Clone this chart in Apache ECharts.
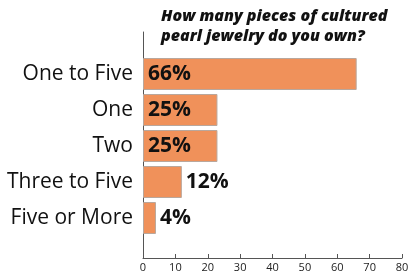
<!DOCTYPE html>
<html><head><meta charset="utf-8">
<script src="https://cdn.jsdelivr.net/npm/echarts@6/dist/echarts.min.js"></script>
<style>html,body{margin:0;padding:0;background:#fff}#c{width:416px;height:279px}</style>
</head><body><div id="c"></div>
<script>
const categories = ["One to Five", "One", "Two", "Three to Five", "Five or More"];
const barValues = [66, 23, 23, 12, 4];
const labelTexts = ["66%", "25%", "25%", "12%", "4%"];
const xTicks = [0, 10, 20, 30, 40, 50, 60, 70, 80];
const titleLines = ["How many pieces of cultured", "pearl jewelry do you own?"];

const chart = echarts.init(document.getElementById('c'), null, {renderer: 'canvas'});
const data = barValues.map((v, i) => ({
  value: v,
  label: v > 20
    ? {position: 'insideLeft', distance: 5}
    : {position: 'right', distance: 4}
}));
chart.setOption({
  animation: false,
  title: {
    text: titleLines.join('\n'),
    left: 156, top: 1,
    textStyle: {fontFamily: 'Open Sans', fontWeight: 800, fontStyle: 'italic', fontSize: 16, lineHeight: 20, color: '#111'}
  },
  grid: [
    {left: 143, right: 14, top: 56, bottom: 43},
    {left: 143, right: 14, top: 32, bottom: 21}
  ],
  xAxis: [
    {gridIndex: 0, type: 'value', min: 0, max: 80, interval: 10, show: false},
    {gridIndex: 1, type: 'value', min: xTicks[0], max: xTicks[xTicks.length - 1], interval: 10,
     splitLine: {show: false},
     axisLine: {show: true, lineStyle: {color: '#555', width: 1}},
     axisTick: {show: true, inside: true, length: 4, lineStyle: {color: '#555'}},
     axisLabel: {color: '#222', fontSize: 11, fontFamily: 'Open Sans', margin: 4}}
  ],
  yAxis: [
    {gridIndex: 0, type: 'category', data: categories, inverse: true,
     axisLine: {show: false}, axisTick: {show: false},
     axisLabel: {color: '#111', fontSize: 21, fontFamily: 'Open Sans', margin: 10}},
    {gridIndex: 1, type: 'value', min: 0, max: 1, show: true,
     axisLine: {show: true, lineStyle: {color: '#555', width: 1}},
     axisTick: {show: false}, axisLabel: {show: false}, splitLine: {show: false}}
  ],
  series: [{
    type: 'bar', xAxisIndex: 0, yAxisIndex: 0,
    data: data,
    barWidth: 32,
    itemStyle: {color: '#F0915A', borderColor: '#b9a79c', borderWidth: 1},
    label: {show: true, formatter: p => labelTexts[p.dataIndex],
      fontFamily: 'Open Sans', fontWeight: 'bold', fontSize: 21, color: '#111'}
  }]
});
</script></body></html>
